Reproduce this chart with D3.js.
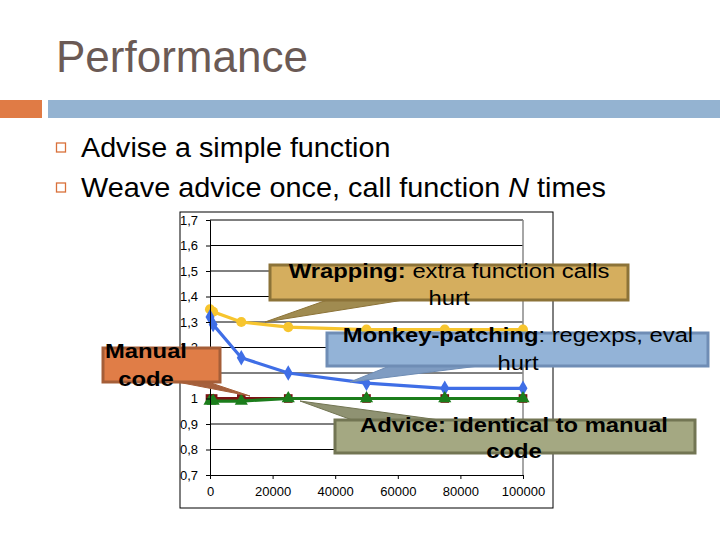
<!DOCTYPE html>
<html><head><meta charset="utf-8">
<script src="https://cdn.jsdelivr.net/npm/d3@7"></script>
<style>body{margin:0;background:#fff}svg{display:block}text{font-family:"Liberation Sans",Arial,sans-serif}</style>
</head><body>
<svg id="c" width="720" height="540"></svg>
<script>
const xValues = [0, 1000, 10000, 25000, 50000, 75000, 100000];
const wrapping = [1.35, 1.34, 1.30, 1.28, 1.27, 1.27, 1.27];
const monkey = [1.32, 1.29, 1.16, 1.10, 1.06, 1.04, 1.04];
const manual = [1.00, 1.00, 1.00, 1.00, 1.00, 1.00, 1.00];
const advice = [0.99, 0.99, 0.99, 1.00, 1.00, 1.00, 1.00];
const yTicks = [0.7, 0.8, 0.9, 1.0, 1.1, 1.2, 1.3, 1.4, 1.5, 1.6, 1.7];
const xTicks = [0, 20000, 40000, 60000, 80000, 100000];

const svg = d3.select("#c");
// title
svg.append("text").attr("x", 56).attr("y", 72).attr("font-size", 44).attr("fill", "#6b5a55").text("Performance");
svg.append("rect").attr("x", 0).attr("y", 100).attr("width", 42).attr("height", 18).attr("fill", "#e07b45");
svg.append("rect").attr("x", 48).attr("y", 100).attr("width", 672).attr("height", 18).attr("fill", "#94b3d1");
// bullets
[148, 188].forEach(cy => {
  svg.append("rect").attr("x", 56.5).attr("y", cy - 5).attr("width", 9).attr("height", 9)
    .attr("fill", "none").attr("stroke", "#d9703a").attr("stroke-width", 1.3);
});
svg.append("text").attr("transform", "translate(81,157) scale(1.025,1)").attr("font-size", 28).text("Advise a simple function");
const b2 = svg.append("text").attr("transform", "translate(81,197) scale(1.03,1)").attr("font-size", 28);
b2.append("tspan").text("Weave advice once, call function ");
b2.append("tspan").attr("font-style", "italic").text("N");
b2.append("tspan").text(" times");

// chart area
svg.append("rect").attr("x", 180).attr("y", 212).attr("width", 373).attr("height", 296)
  .attr("fill", "#fff").attr("stroke", "#000").attr("stroke-width", 1);

const x = d3.scaleLinear().domain([0, 100000]).range([210, 523]);
const y = d3.scaleLinear().domain([0.7, 1.7]).range([475, 220]);

const g = svg.append("g");
g.selectAll("line.grid").data(yTicks.slice(1)).join("line")
  .attr("x1", x(0)).attr("x2", x(100000)).attr("y1", d => y(d)).attr("y2", d => y(d))
  .attr("stroke", "#000").attr("stroke-width", 1);
g.append("line").attr("x1", x(100000)).attr("x2", x(100000)).attr("y1", y(1.7)).attr("y2", y(0.7))
  .attr("stroke", "#888").attr("stroke-width", 1.5);

const fmt = d => d === 1 ? "1" : d3.format(".1f")(d).replace(".", ",");
const yAxis = d3.axisLeft(y).tickValues(yTicks).tickSize(4).tickPadding(8).tickFormat(fmt);
const ya = svg.append("g").attr("transform", `translate(${x(0)},0)`).call(yAxis);
ya.selectAll("text").attr("font-size", 13).attr("fill", "#000").attr("font-family", "Liberation Sans, Arial");
ya.select(".domain").attr("stroke", "#000");
const xAxis = d3.axisBottom(x).tickValues(xTicks).tickSize(4).tickPadding(8).tickFormat(d3.format("d"));
const xa = svg.append("g").attr("transform", `translate(0,${y(0.7)})`).call(xAxis);
xa.selectAll("text").attr("font-size", 13).attr("fill", "#000").attr("font-family", "Liberation Sans, Arial");
xa.select(".domain").attr("stroke", "#000");

const series = [
  {vals: manual, color: "#7a1414", shape: d3.symbolSquare, size: 75},
  {vals: wrapping, color: "#f7c52e", shape: d3.symbolCircle, size: 80},
  {vals: monkey, color: "#3f6ee6", shape: d3.symbolDiamond, size: 70},
  {vals: advice, color: "#1b7d1b", shape: d3.symbolTriangle, size: 75}
];
const line = d3.line().x((d, i) => x(xValues[i])).y(d => y(d));
series.forEach(s => {
  g.append("path").datum(s.vals).attr("d", line).attr("fill", "none")
    .attr("stroke", s.color).attr("stroke-width", 3.2);
  g.selectAll(null).data(s.vals).join("path")
    .attr("transform", (d, i) => `translate(${x(xValues[i])},${y(d)})`)
    .attr("d", d3.symbol().type(s.shape).size(s.size)).attr("fill", s.color);
});

// callouts
function callout(box, wedge, fill, stroke, wedgeFill, lines, cx) {
  svg.append("polygon").attr("points", wedge.map(p => p.join(",")).join(" "))
    .attr("fill", wedgeFill).attr("stroke", stroke).attr("stroke-width", 1);
  svg.append("rect").attr("x", box[0]).attr("y", box[1]).attr("width", box[2] - box[0]).attr("height", box[3] - box[1])
    .attr("fill", fill).attr("stroke", stroke).attr("stroke-width", 3);
  lines.forEach(([yy, parts]) => {
    const t = svg.append("text").attr("transform", `translate(${cx},${yy}) scale(1.19,1)`)
      .attr("text-anchor", "middle").attr("font-size", 20).attr("fill", "#000");
    parts.forEach(([txt, bold]) => t.append("tspan").attr("font-weight", bold ? "bold" : "normal").text(txt));
  });
}
callout([270, 265, 628, 300], [[330, 299], [410, 299], [265, 322]], "#d5ae5e", "#8c7338", "#a08b50",
  [[278, [["Wrapping:", true], [" extra function calls", false]]], [305, [["hurt", false]]]], 449);
callout([327, 333, 708, 366], [[392, 365], [487, 365], [350, 382]], "#93b3d7", "#6f8db5", "#7f9cc2",
  [[342, [["Monkey-patching", true], [": regexps, eval", false]]], [370, [["hurt", false]]]], 518);
callout([335, 420, 695, 453], [[355, 421], [447, 421], [300, 401]], "#a4a882", "#727553", "#8f9272",
  [[432, [["Advice: identical to manual", true]]], [458, [["code", true]]]], 514);
callout([103, 348, 220, 382], [[172, 381], [205, 381], [250, 396]], "#e07d47", "#a55e38", "#a5603d",
  [[358, [["Manual", true]]], [386, [["code", true]]]], 146);
</script>
</body></html>
